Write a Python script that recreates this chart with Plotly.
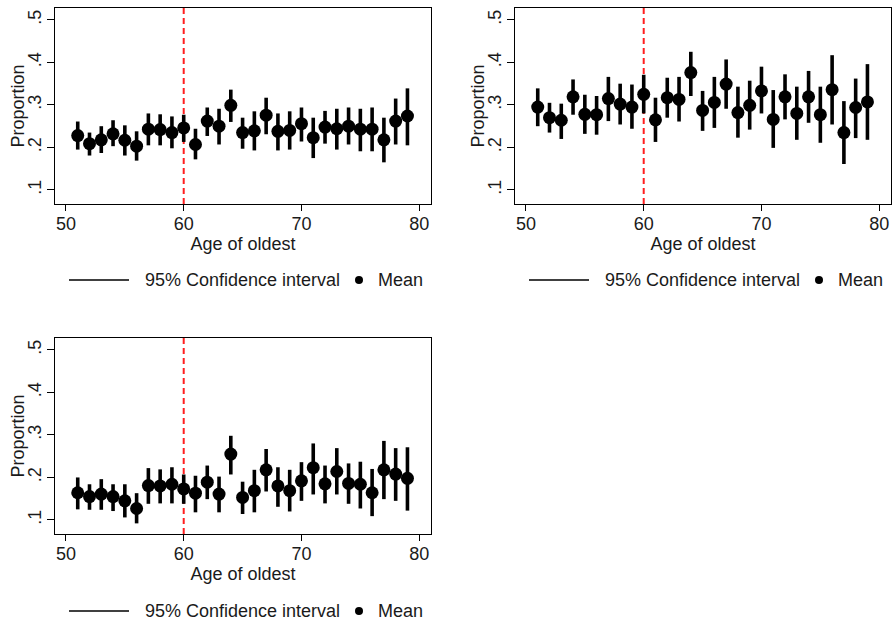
import plotly.graph_objects as go

# ---------------- data ----------------
ages = list(range(51, 80))
cutoff_age = 60

mean1 = [0.228, 0.209, 0.218, 0.232, 0.217, 0.203, 0.243, 0.242, 0.235, 0.246,
         0.207, 0.262, 0.250, 0.299, 0.235, 0.239, 0.276, 0.238, 0.240, 0.256,
         0.223, 0.248, 0.244, 0.250, 0.243, 0.243, 0.218, 0.262, 0.274]
lo1 = [0.195, 0.181, 0.187, 0.203, 0.181, 0.169, 0.205, 0.205, 0.198, 0.213,
       0.172, 0.227, 0.207, 0.260, 0.197, 0.193, 0.231, 0.193, 0.195, 0.214,
       0.175, 0.209, 0.195, 0.207, 0.191, 0.191, 0.165, 0.207, 0.205]
hi1 = [0.261, 0.235, 0.250, 0.264, 0.252, 0.238, 0.280, 0.278, 0.273, 0.277,
       0.244, 0.294, 0.291, 0.336, 0.270, 0.285, 0.317, 0.280, 0.285, 0.294,
       0.270, 0.286, 0.291, 0.294, 0.291, 0.294, 0.270, 0.315, 0.339]

mean2 = [0.295, 0.270, 0.264, 0.319, 0.278, 0.277, 0.315, 0.302, 0.295, 0.325,
         0.265, 0.317, 0.313, 0.376, 0.287, 0.306, 0.349, 0.282, 0.299, 0.333,
         0.266, 0.319, 0.280, 0.319, 0.277, 0.336, 0.235, 0.294, 0.307]
lo2 = [0.250, 0.235, 0.220, 0.277, 0.232, 0.230, 0.262, 0.254, 0.244, 0.280,
       0.213, 0.270, 0.261, 0.321, 0.239, 0.246, 0.291, 0.223, 0.242, 0.280,
       0.199, 0.266, 0.218, 0.258, 0.211, 0.254, 0.161, 0.222, 0.218]
hi2 = [0.339, 0.305, 0.303, 0.360, 0.324, 0.321, 0.366, 0.350, 0.348, 0.371,
       0.317, 0.364, 0.366, 0.425, 0.333, 0.366, 0.407, 0.343, 0.357, 0.390,
       0.335, 0.372, 0.343, 0.380, 0.343, 0.417, 0.309, 0.362, 0.396]

mean3 = [0.164, 0.155, 0.161, 0.155, 0.145, 0.127, 0.181, 0.180, 0.184, 0.173,
         0.163, 0.189, 0.161, 0.255, 0.153, 0.169, 0.218, 0.180, 0.169, 0.192,
         0.223, 0.185, 0.214, 0.186, 0.184, 0.164, 0.218, 0.208, 0.198]
lo3 = [0.125, 0.124, 0.124, 0.121, 0.106, 0.092, 0.138, 0.139, 0.139, 0.138,
       0.118, 0.149, 0.118, 0.207, 0.114, 0.118, 0.167, 0.131, 0.120, 0.145,
       0.160, 0.139, 0.160, 0.138, 0.127, 0.109, 0.149, 0.145, 0.122]
hi3 = [0.200, 0.184, 0.196, 0.184, 0.184, 0.163, 0.222, 0.219, 0.224, 0.207,
       0.204, 0.228, 0.202, 0.298, 0.190, 0.218, 0.267, 0.224, 0.218, 0.236,
       0.280, 0.228, 0.269, 0.233, 0.237, 0.220, 0.286, 0.269, 0.271]

x_ticks = [50, 60, 70, 80]
y_ticks = [0.1, 0.2, 0.3, 0.4, 0.5]
y_tick_labels = [".1", ".2", ".3", ".4", ".5"]
x_title = "Age of oldest"
y_title = "Proportion"
ci_label = "95% Confidence interval"
mean_label = "Mean"

# ---------------- layout helpers ----------------
W, H = 892, 626
FONT = "Liberation Sans, Arial, sans-serif"
FS = 18
TXT = "#1a1a1a"

panels = [(mean1, lo1, hi1), (mean2, lo2, hi2), (mean3, lo3, hi3)]
# plot boxes in pixels: left, right, top, bottom
boxes = [(55, 431, 8, 204), (515, 891, 8, 204), (55, 431, 338, 534)]
# legend anchors: x offset, y center in pixels
legends = [(0, 280), (460, 280), (0, 611)]

fig = go.Figure()
shapes = []
annotations = []
layout = {}

for i, ((m, lo, hi), (l, r, t, b), (lx, ly)) in enumerate(zip(panels, boxes, legends), start=1):
    sfx = "" if i == 1 else str(i)
    xa, ya = "x" + sfx, "y" + sfx
    fig.add_trace(go.Scatter(
        x=ages, y=m, mode="markers", xaxis=xa, yaxis=ya, showlegend=False,
        marker=dict(color="black", size=13, line=dict(width=0)),
        error_y=dict(type="data", symmetric=False,
                     array=[h - v for h, v in zip(hi, m)],
                     arrayminus=[v - q for v, q in zip(m, lo)],
                     width=0, thickness=3.6, color="black"),
        cliponaxis=False,
    ))
    layout["xaxis" + sfx] = dict(
        domain=[l / W, r / W], anchor=ya, range=[49.07, 81.0],
        tickvals=x_ticks, ticks="outside", ticklen=6, tickwidth=1, tickcolor="black",
        showline=True, mirror=True, linecolor="black", linewidth=1,
        showgrid=False, zeroline=False, ticklabelstandoff=-3,
        tickfont=dict(family=FONT, size=FS, color=TXT),
        title=dict(text=x_title, font=dict(family=FONT, size=FS, color=TXT), standoff=3),
    )
    layout["yaxis" + sfx] = dict(
        domain=[1 - b / H, 1 - t / H], anchor=xa, range=[0.067, 0.528],
        tickvals=y_ticks, ticktext=y_tick_labels, tickangle=-90,
        ticks="outside", ticklen=7, tickwidth=1, tickcolor="black",
        showline=True, mirror=True, linecolor="black", linewidth=1,
        showgrid=False, zeroline=False, ticklabelstandoff=-1,
        tickfont=dict(family=FONT, size=FS, color=TXT),
    )
    # y-axis title (placed like Stata's)
    annotations.append(dict(text=y_title, xref="paper", yref="paper",
                            x=(l - 37.5) / W, y=1 - (t + b) / 2 / H,
                            xanchor="center", yanchor="middle", textangle=-90,
                            showarrow=False, font=dict(family=FONT, size=FS, color=TXT)))
    # cutoff line
    shapes.append(dict(type="line", xref=xa, yref=ya + " domain", layer="below",
                       x0=cutoff_age, x1=cutoff_age, y0=0, y1=1,
                       line=dict(color="rgb(255,30,30)", width=2, dash="6px,4px")))
    # legend (drawn manually, Stata style)
    yl = 1 - ly / H
    shapes.append(dict(type="line", xref="paper", yref="paper",
                       x0=(69 + lx) / W, x1=(129 + lx) / W, y0=yl, y1=yl,
                       line=dict(color="black", width=1.5)))
    shapes.append(dict(type="circle", xref="paper", yref="paper",
                       x0=(355 + lx) / W, x1=(363 + lx) / W,
                       y0=1 - (ly + 4) / H, y1=1 - (ly - 4) / H,
                       fillcolor="black", line=dict(color="black", width=0)))
    annotations.append(dict(text=ci_label, xref="paper", yref="paper",
                            x=(143 + lx) / W, y=yl, xanchor="left", yanchor="middle",
                            showarrow=False, font=dict(family=FONT, size=FS, color=TXT)))
    annotations.append(dict(text=mean_label, xref="paper", yref="paper",
                            x=(376 + lx) / W, y=yl, xanchor="left", yanchor="middle",
                            showarrow=False, font=dict(family=FONT, size=FS, color=TXT)))

fig.update_layout(
    width=W, height=H, margin=dict(l=0, r=0, t=0, b=0),
    paper_bgcolor="white", plot_bgcolor="white",
    shapes=shapes, annotations=annotations, showlegend=False,
    **layout,
)

fig.write_html("out.html")
